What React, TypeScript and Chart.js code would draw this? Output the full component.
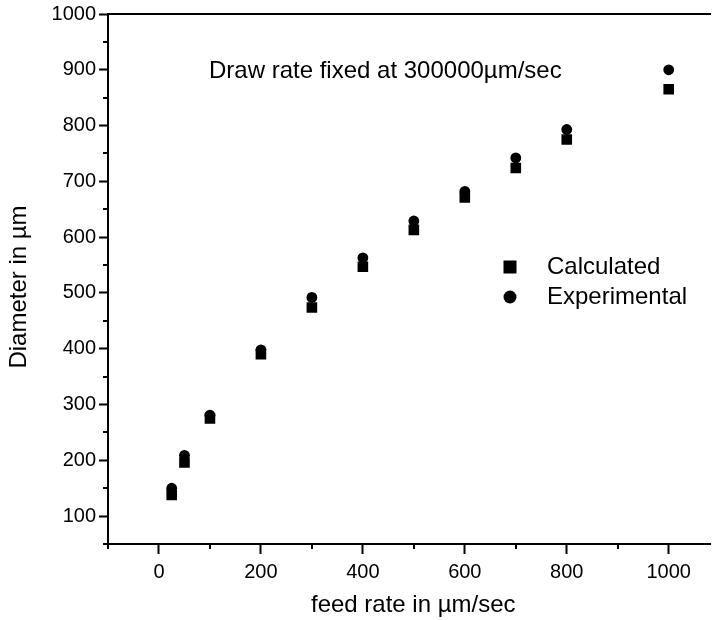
import React, { useEffect, useRef } from 'react';
import { Chart, registerables } from 'chart.js';

Chart.register(...registerables);

const feedRates = [25, 50, 100, 200, 300, 400, 500, 600, 700, 800, 1000];
const calculated = [138, 196, 275, 390, 474, 547, 613, 671, 724, 775, 865];
const experimental = [150, 209, 281, 398, 492, 563, 629, 682, 742, 793, 900];

const xMajorTicks = [0, 200, 400, 600, 800, 1000];
const xMinorTicks = [-100, 100, 300, 500, 700, 900];
const yMajorTicks = [100, 200, 300, 400, 500, 600, 700, 800, 900, 1000];
const yMinorTicks = [50, 150, 250, 350, 450, 550, 650, 750, 850, 950];

const annotationText = 'Draw rate fixed at 300000\u00b5m/sec';
const xTitle = 'feed rate in \u00b5m/sec';
const yTitle = 'Diameter in \u00b5m';

const FONT = '"Liberation Sans", Arial, Helvetica, sans-serif';

const extrasPlugin = {
  id: 'extras',
  afterDraw(chart: any) {
    const ctx = chart.ctx;
    const x = chart.scales.x;
    const y = chart.scales.y;
    const area = chart.chartArea;
    ctx.save();
    ctx.strokeStyle = '#000';
    ctx.lineWidth = 2;
    // minor ticks
    yMinorTicks.forEach((v) => {
      const py = Math.round(y.getPixelForValue(v));
      ctx.beginPath();
      ctx.moveTo(area.left - 5, py);
      ctx.lineTo(area.left, py);
      ctx.stroke();
    });
    xMinorTicks.forEach((v) => {
      const px = Math.round(x.getPixelForValue(v));
      ctx.beginPath();
      ctx.moveTo(px, area.bottom);
      ctx.lineTo(px, area.bottom + 5);
      ctx.stroke();
    });
    ctx.fillStyle = '#000';
    ctx.font = `24px ${FONT}`;
    ctx.textBaseline = 'middle';
    // axis titles
    ctx.textAlign = 'center';
    ctx.fillText(xTitle, (area.left + area.right) / 2 + 4, 605);
    ctx.save();
    ctx.translate(19, (area.top + area.bottom) / 2 + 8);
    ctx.rotate(-Math.PI / 2);
    ctx.fillText(yTitle, 0, 0);
    ctx.restore();
    // annotation
    ctx.textAlign = 'left';
    ctx.fillText(annotationText, area.left + 101, area.top + 57);
    // legend (inside plot)
    const lx = area.left + 402;
    const ly = area.top + 253;
    chart.data.datasets.forEach((ds: any, i: number) => {
      const cy = ly + i * 30;
      ctx.beginPath();
      if (ds.pointStyle === 'rect') {
        ctx.rect(lx - 6.5, cy - 6.5, 13, 13);
      } else {
        ctx.arc(lx, cy, 6.5, 0, Math.PI * 2);
      }
      ctx.fill();
      ctx.fillText(ds.label, lx + 37, cy);
    });
    ctx.restore();
  },
};

export default function App() {
  const ref = useRef<HTMLCanvasElement>(null);
  useEffect(() => {
    if (!ref.current) return;
    const chart = new Chart(ref.current, {
      type: 'scatter',
      data: {
        datasets: [
          {
            label: 'Calculated',
            data: feedRates.map((f, i) => ({ x: f, y: calculated[i] })),
            pointStyle: 'rect',
            pointRadius: 7.5,
            backgroundColor: '#000',
            borderColor: '#000',
            borderWidth: 0,
          },
          {
            label: 'Experimental',
            data: feedRates.map((f, i) => ({ x: f, y: experimental[i] })),
            pointStyle: 'circle',
            pointRadius: 5.4,
            backgroundColor: '#000',
            borderColor: '#000',
            borderWidth: 0,
          },
        ],
      },
      options: {
        responsive: false,
        animation: false,
        devicePixelRatio: 1,
        layout: { padding: 0 },
        plugins: {
          legend: { display: false },
          tooltip: { enabled: false },
          title: { display: false },
        },
        scales: {
          x: {
            type: 'linear',
            position: 'bottom',
            min: -100,
            max: 1082,
            afterBuildTicks: (s: any) => {
              s.ticks = xMajorTicks.map((v) => ({ value: v }));
            },
            afterFit: (s: any) => {
              s.height = 76;
              s.paddingLeft = 0;
              s.paddingRight = 0;
            },
            grid: {
              drawOnChartArea: false,
              tickLength: 10,
              tickWidth: 2,
              color: '#000',
            },
            border: { display: true, color: '#000', width: 2 },
            ticks: {
              color: '#000',
              font: { family: FONT, size: 20 },
              padding: 6,
              maxRotation: 0,
              autoSkip: false,
              callback: (v: any) => String(v),
            },
            title: { display: false },
          },
          x2: {
            type: 'linear',
            position: 'top',
            min: -100,
            max: 1082,
            afterFit: (s: any) => {
              s.height = 14;
              s.paddingLeft = 0;
              s.paddingRight = 0;
            },
            grid: { display: true, drawOnChartArea: false, drawTicks: false, color: '#000' },
            border: { display: true, color: '#000', width: 2 },
            ticks: { display: false },
          },
          y: {
            type: 'linear',
            min: 50,
            max: 1000,
            afterBuildTicks: (s: any) => {
              s.ticks = yMajorTicks.map((v) => ({ value: v }));
            },
            afterFit: (s: any) => {
              s.width = 108;
              s.paddingTop = 0;
              s.paddingBottom = 0;
            },
            grid: {
              drawOnChartArea: false,
              tickLength: 9,
              tickWidth: 2,
              color: '#000',
            },
            border: { display: true, color: '#000', width: 2 },
            ticks: {
              color: '#000',
              font: { family: FONT, size: 20 },
              padding: 3,
              autoSkip: false,
              callback: (v: any) => String(v),
            },
            title: { display: false },
          },
        },
      },
      plugins: [extrasPlugin],
    });
    return () => chart.destroy();
  }, []);
  return (
    <div style={{ position: 'absolute', left: 0, top: 0, width: 718, height: 620, background: '#fff' }}>
      <canvas ref={ref} width={718} height={620} style={{ display: 'block' }} />
    </div>
  );
}
